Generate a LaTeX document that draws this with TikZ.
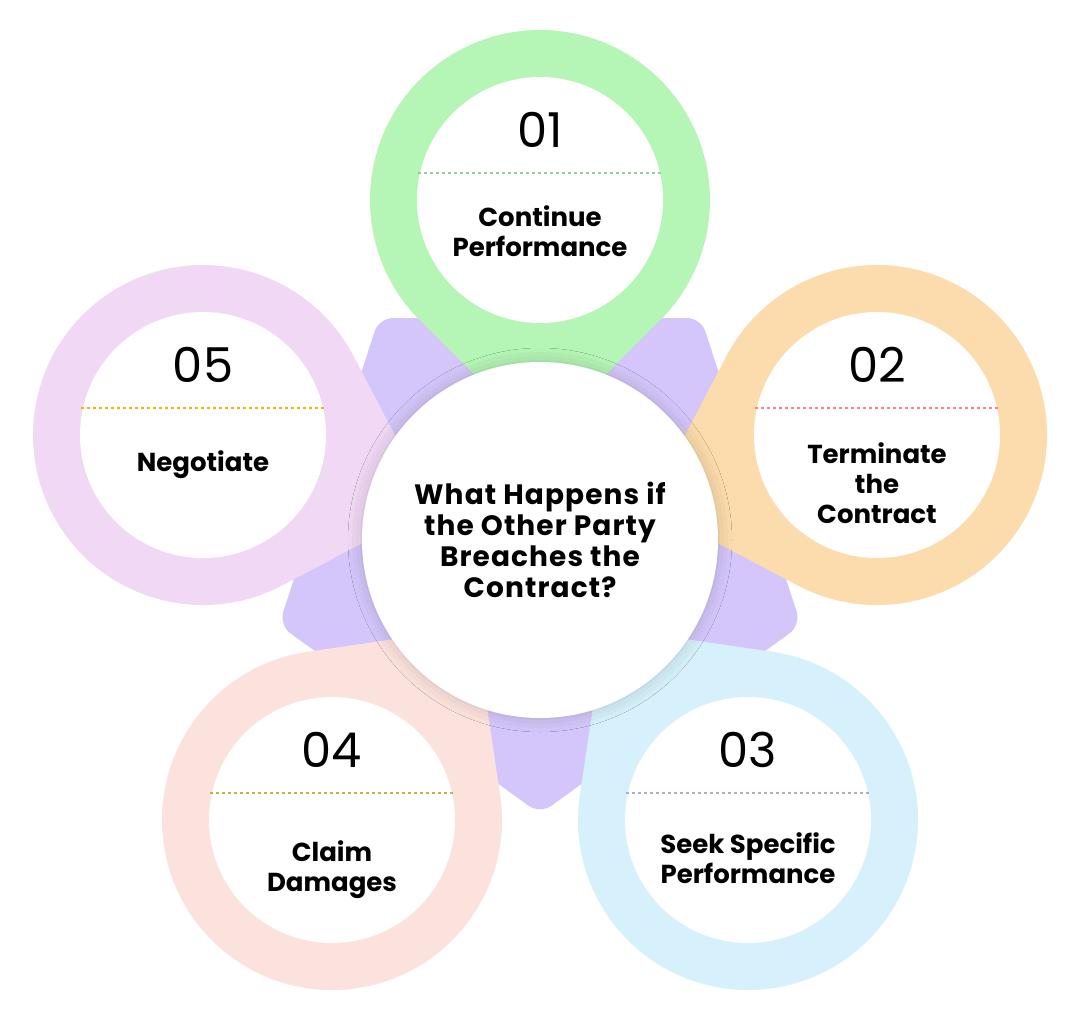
\documentclass[tikz,border=0pt]{standalone}
\usepackage{fontspec}
\setmainfont{Poppins}
\usetikzlibrary{shadows.blur}
\definecolor{cA}{HTML}{B5F5B5}
\definecolor{cB}{HTML}{FCDCAC}
\definecolor{cC}{HTML}{D6F1FB}
\definecolor{cD}{HTML}{FCE2DC}
\definecolor{cE}{HTML}{F1D8F4}
\definecolor{cP}{HTML}{D4C6FA}
\tikzset{
  drop/.style={blur shadow={shadow xshift=0pt,shadow yshift=0pt,shadow blur radius=14pt,shadow opacity=18}},
  num/.style={font=\fontsize{48}{50}\selectfont, text=black},
  lab/.style={font=\fontsize{26}{30}\selectfont\bfseries, align=center, text=black},
}
\newcommand{\tear}[4]{%
  \begin{scope}[shift={(#1,#2)}]
    \fill[#4,rotate=-#3] (45:170) arc[start angle=45,end angle=315,radius=170] -- (240,0) -- cycle;
  \end{scope}}
\newcommand{\inner}[6]{%
  \fill[white] (#1,#2) circle[radius=123];
  \node[num] (n#6) at (#1,#2-70) {#6};
  \draw[#3,dashed,line width=1.2pt] (#1-122,#2-27) -- (#1+122,#2-27);
  \node[lab] (l#6) at (#1,#2+#4) {#5};}
\begin{document}
\begin{tikzpicture}[x=1pt,y=-1pt]
\useasboundingbox (0,0) rectangle (1080,1015);
\fill[white] (0,0) rectangle (1080,1015);
\fill[cP,rounded corners=14] (701,318) -- (801,625) -- (540,814) -- (279,625) -- (379,318) -- cycle;
\tear{540}{200}{90}{cA}
\tear{877}{435}{162.7}{cB}
\tear{748}{820}{233.4}{cC}
\tear{332}{820}{-53.4}{cD}
\tear{203}{435}{17.3}{cE}
\inner{540}{200}{gray!60!green!60}{31}{Continue\\Performance}{01}
\inner{877}{435}{red!50}{48}{Terminate\\the\\Contract}{02}
\inner{748}{820}{gray!70!blue!50}{38}{Seek Specific\\Performance}{03}
\inner{332}{820}{olive!60}{50}{Claim\\Damages}{04}
\inner{203}{435}{orange!60!yellow}{30}{Negotiate}{05}
\node[circle,fill=white,minimum size=356pt,drop,lab,font=\fontsize{28}{31}\selectfont\bfseries\addfontfeatures{LetterSpace=4}] (c) at (540,540) {What Happens if\\the Other Party\\Breaches the\\Contract?};
\end{tikzpicture}
\end{document}
